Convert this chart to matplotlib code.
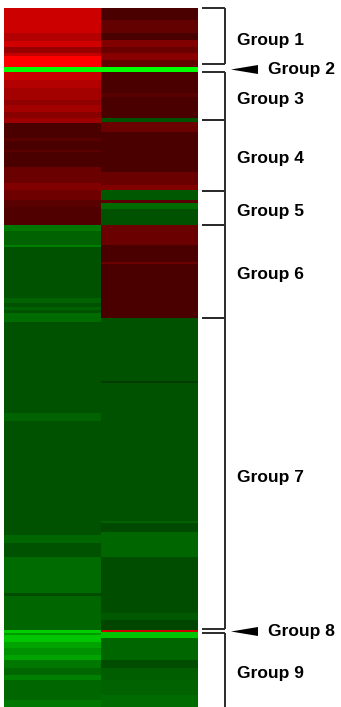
import numpy as np
import matplotlib
matplotlib.use("Agg")
import matplotlib.pyplot as plt
from matplotlib.colors import LinearSegmentedColormap
from matplotlib.patches import Polygon

# log2 ratios, run-length coded: (number of genes, value) per band, top to bottom
col1_counts = [25, 8, 6, 6, 3, 11, 5, 8, 8, 12, 5, 7, 6, 5, 15, 3, 9, 2, 15, 16,
               7, 10, 7, 18, 6, 14, 2, 51, 5, 4, 3, 3, 9, 91, 8, 114, 8, 14, 36,
               3, 34, 3, 2, 7, 6, 7, 5, 8, 7, 5, 20, 7]
col1_values = [2.4, 2.1, 2.45, 1.8, 2.3, 3.0, -3.0, 2.35, 2.1, 1.9, 1.7, 1.9, 1.6,
               1.85, 0.87, 1.05, 0.87, 1.05, 0.87, 1.25, 1.5, 1.3, 1.05, 0.95,
               -1.4, -1.15, -1.5, -0.95, -1.15, -0.95, -1.15, -0.95, -1.25, -0.95,
               -1.15, -0.95, -1.2, -0.95, -1.25, -0.9, -1.2, -2.4, -1.8, -2.3,
               -1.9, -1.7, -1.9, -1.4, -1.2, -1.5, -1.2, -1.4]

col2_counts = [12, 13, 7, 7, 6, 7, 7, 5, 21, 4, 21, 4, 10, 40, 13, 5, 10, 3, 6, 16,
               20, 17, 2, 54, 63, 2, 138, 2, 9, 25, 56, 7, 10, 2, 6, 22, 8, 12,
               15, 12]
col2_values = [0.87, 1.15, 0.87, 1.5, 1.25, 1.6, 1.15, -3.0, 0.87, 1.05, 0.87,
               -0.95, 1.25, 0.87, 1.25, 1.5, -1.05, 1.05, -1.25, -0.95, 1.25,
               0.87, 1.25, 0.87, -0.95, -0.7, -0.95, -1.15, -0.85, -1.2, -0.9,
               -1.05, -0.8, 2.4, -2.3, -1.2, -0.9, -1.1, -1.15, -1.25]

# cluster membership (genes per group)
group_names = ["Group 1", "Group 2", "Group 3", "Group 4", "Group 5",
               "Group 6", "Group 7", "Group 8", "Group 9"]
group_sizes = [59, 5, 48, 71, 34, 93, 312, 3, 74]
single_groups = ["Group 2", "Group 8"]

col1 = np.repeat(col1_values, col1_counts)
col2 = np.repeat(col2_values, col2_counts)
data = np.column_stack([col1, col2])
n = data.shape[0]

cmap = LinearSegmentedColormap.from_list("gbr", ["#00ff00", "#000000", "#ff0000"])

W, H = 341, 707
fig = plt.figure(figsize=(W / 100, H / 100), dpi=100)
fig.patch.set_facecolor("white")

ax = fig.add_axes([4 / W, 0, 193 / W, n / H])
ax.imshow(data, cmap=cmap, vmin=-3, vmax=3, aspect="auto", interpolation="nearest")
ax.set_axis_off()

# brackets and labels share the row scale of the heatmap
ax2 = fig.add_axes([197 / W, 0, (W - 197) / W, n / H])
ax2.set_xlim(197, W)
ax2.set_ylim(n - 0.5, -0.5)
ax2.set_axis_off()

line_kw = dict(color="#2b2b2b", lw=1.4, solid_capstyle="butt", clip_on=False)
text_kw = dict(fontsize=12.5, fontweight="bold", family=["Liberation Sans", "DejaVu Sans"],
               va="center", ha="left", color="black")
x_tick0, x_bar = 202, 225
# bracket end pulled up a little where an arrow follows
end_gap = {"Group 1": 3, "Group 7": 1}

starts = np.concatenate([[0], np.cumsum(group_sizes)[:-1]])
for name, size, s in zip(group_names, group_sizes, starts):
    e = s + size
    if name in single_groups:
        yc = s + size / 2 - 0.5
        ax2.add_patch(Polygon([[231, yc], [258, yc - 4.5], [258, yc + 4.5]],
                              closed=True, color="black", lw=0))
        ax2.text(268, yc, name, **text_kw)
        continue
    y0 = s - 0.5
    y1 = e - 0.5 - end_gap.get(name, 0)
    ax2.plot([x_tick0, x_bar], [y0, y0], **line_kw)
    if e < n:
        ax2.plot([x_tick0, x_bar], [y1, y1], **line_kw)
    ax2.plot([x_bar, x_bar], [y0, min(y1, n + 5)], **line_kw)
    mid = (s + min(e, n)) / 2 + 3
    ax2.text(237, mid, name, **text_kw)

fig.savefig("out.png", dpi=100, facecolor="white")
